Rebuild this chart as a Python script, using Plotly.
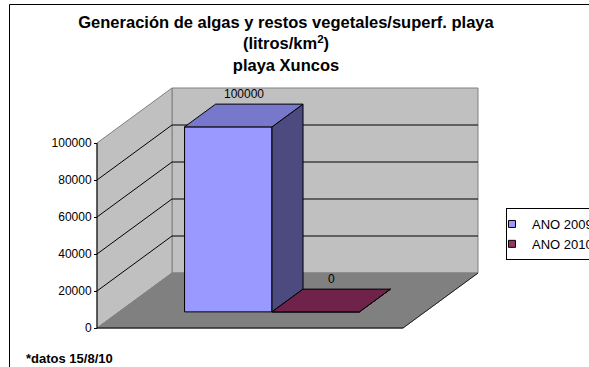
import plotly.graph_objects as go

# ---------------- data ----------------
series_names = ["ANO 2009", "ANO 2010"]
series_values = [100000, 0]
value_labels = ["100000", "0"]
front_colors = ["#9999FF", "#993366"]
top_colors = ["#7777CC", "#70234A"]
side_colors = ["#4B4B80", "#4A1932"]
y_tick_values = [0, 20000, 40000, 60000, 80000, 100000]
y_tick_labels = ["0", "20000", "40000", "60000", "80000", "100000"]
title_lines = ["Generación de algas y restos vegetales/superf. playa",
               "(litros/km<sup>2</sup>)",
               "playa Xuncos"]
footnote = "*datos 15/8/10"

# ---------------- geometry / style ----------------
FONT = "Liberation Sans, Arial, sans-serif"
W, H = 589, 367
YMAX = y_tick_values[-1]
GAP = 1.5                      # Excel gap width 150 %
BW = 1.0 / (len(series_values) + GAP)
DX = 75 / 306                  # depth vector (x, category units)
DY = 55 / 185 * YMAX           # depth vector (y, value units)
F0, F1 = 0.293, 0.707          # bar depth span (fraction of full depth)

# plot area in pixels, front plane: x -0.5..0.5 -> 97..403 px, y 0..YMAX -> 328..143 px
L, R, T, B = 90, 485, 82, 332
xpx = 306.0
ypx = 185.0 / YMAX
xr = [-0.5 - (97 - L) / xpx, 0.5 + (R - 403) / xpx]
yr = [-(B - 328) / ypx, (328 - T) / ypx]


def px_x(p):
    return (p - L) / (R - L)


def px_y(p):
    return (B - p) / (B - T)


fig = go.Figure()

# ---------------- bars ----------------
n = len(series_values)
for i, (name, v) in enumerate(zip(series_names, series_values)):
    left = -n * BW / 2 + i * BW
    right = left + BW
    ctr = (left + right) / 2
    # front face
    fig.add_trace(go.Bar(
        x=[ctr + F0 * DX], y=[v], base=[F0 * DY], width=[BW],
        marker=dict(color=front_colors[i], line=dict(color="black", width=1)),
        showlegend=False, hoverinfo="skip"))
    # side face
    fig.add_trace(go.Scatter(
        x=[right + F0 * DX, right + F1 * DX, right + F1 * DX, right + F0 * DX, right + F0 * DX],
        y=[F0 * DY, F1 * DY, F1 * DY + v, F0 * DY + v, F0 * DY],
        mode="lines", fill="toself", fillcolor=side_colors[i],
        line=dict(color="black", width=1), showlegend=False, hoverinfo="skip"))
    # top face
    fig.add_trace(go.Scatter(
        x=[left + F0 * DX, right + F0 * DX, right + F1 * DX, left + F1 * DX, left + F0 * DX],
        y=[v + F0 * DY, v + F0 * DY, v + F1 * DY, v + F1 * DY, v + F0 * DY],
        mode="lines", fill="toself", fillcolor=top_colors[i],
        line=dict(color="black", width=1), showlegend=False, hoverinfo="skip"))
    # legend entry
    fig.add_trace(go.Scatter(
        x=[None], y=[None], mode="markers", name=name,
        marker=dict(symbol="square", size=7, color=front_colors[i],
                    line=dict(color="black", width=1))))
    # data label
    fig.add_annotation(
        x=ctr + (F0 + F1) / 2 * DX, y=v + F1 * DY, text=value_labels[i],
        showarrow=False, yanchor="bottom", yshift=1,
        font=dict(family=FONT, size=12, color="black"))

# ---------------- walls, floor, gridlines ----------------
shapes = []
x_l, x_r = -0.5, 0.5
# back wall
shapes.append(dict(type="rect", x0=x_l + DX, x1=x_r + DX, y0=DY, y1=YMAX + DY,
                   fillcolor="#C0C0C0", line=dict(color="#808080", width=1), layer="below"))
# left wall
shapes.append(dict(type="path",
                   path=f"M{x_l},0 L{x_l + DX},{DY} L{x_l + DX},{YMAX + DY} L{x_l},{YMAX} Z",
                   fillcolor="#C0C0C0", line=dict(color="#808080", width=1), layer="below"))
# floor
shapes.append(dict(type="path",
                   path=f"M{x_l},0 L{x_r},0 L{x_r + DX},{DY} L{x_l + DX},{DY} Z",
                   fillcolor="#808080", line=dict(color="#808080", width=1), layer="below"))
# gridlines
for t in y_tick_values[1:-1]:
    shapes.append(dict(type="line", x0=x_l, y0=t, x1=x_l + DX, y1=t + DY,
                       line=dict(color="black", width=1), layer="below"))
    shapes.append(dict(type="line", x0=x_l + DX, y0=t + DY, x1=x_r + DX, y1=t + DY,
                       line=dict(color="black", width=1), layer="below"))
# axes lines
shapes.append(dict(type="line", x0=x_l, y0=0, x1=x_l, y1=YMAX,
                   line=dict(color="black", width=1), layer="below"))
shapes.append(dict(type="line", x0=x_l, y0=0, x1=x_r, y1=0,
                   line=dict(color="black", width=1), layer="below"))
shapes.append(dict(type="line", x0=x_r, y0=0, x1=x_r + DX, y1=DY,
                   line=dict(color="#202020", width=1), layer="below"))
# chart border
shapes.append(dict(type="rect", xref="paper", yref="paper",
                   x0=px_x(9.5), x1=px_x(W + 20), y0=px_y(H + 20), y1=px_y(4.5),
                   line=dict(color="black", width=1), fillcolor="rgba(0,0,0,0)"))

fig.add_annotation(xref="paper", yref="paper", x=px_x(24), y=px_y(358),
                   xanchor="left", yanchor="middle", showarrow=False,
                   text=f"<b>{footnote}</b>",
                   font=dict(family=FONT, size=13, color="black"))

fig.update_layout(
    width=W, height=H,
    margin=dict(l=L, r=W - R, t=T, b=H - B, autoexpand=False),
    paper_bgcolor="white", plot_bgcolor="white",
    shapes=shapes,
    barmode="overlay",
    title=dict(text="<br>".join(title_lines), x=286 / W, xanchor="center",
               xref="container", y=1 - 28 / H, yanchor="top", yref="container",
               font=dict(family=FONT, size=16.5, color="black", weight="bold")),
    xaxis=dict(range=xr, visible=False, fixedrange=True),
    yaxis=dict(range=yr, tickvals=y_tick_values, ticktext=y_tick_labels,
               showgrid=False, zeroline=False, showline=False,
               ticks="outside", ticklen=3, tickcolor="black",
               anchor="free", position=px_x(97), fixedrange=True,
               tickfont=dict(family=FONT, size=12, color="black")),
    legend=dict(x=px_x(506), y=px_y(208), xanchor="left", yanchor="top",
                bordercolor="black", borderwidth=1, bgcolor="white",
                font=dict(family=FONT, size=13, color="black"),
                indentation=-15, tracegroupgap=0),
    showlegend=True,
)

fig.write_html("out.html", config={"displayModeBar": False},
               post_script="document.body.style.margin='0px';")
